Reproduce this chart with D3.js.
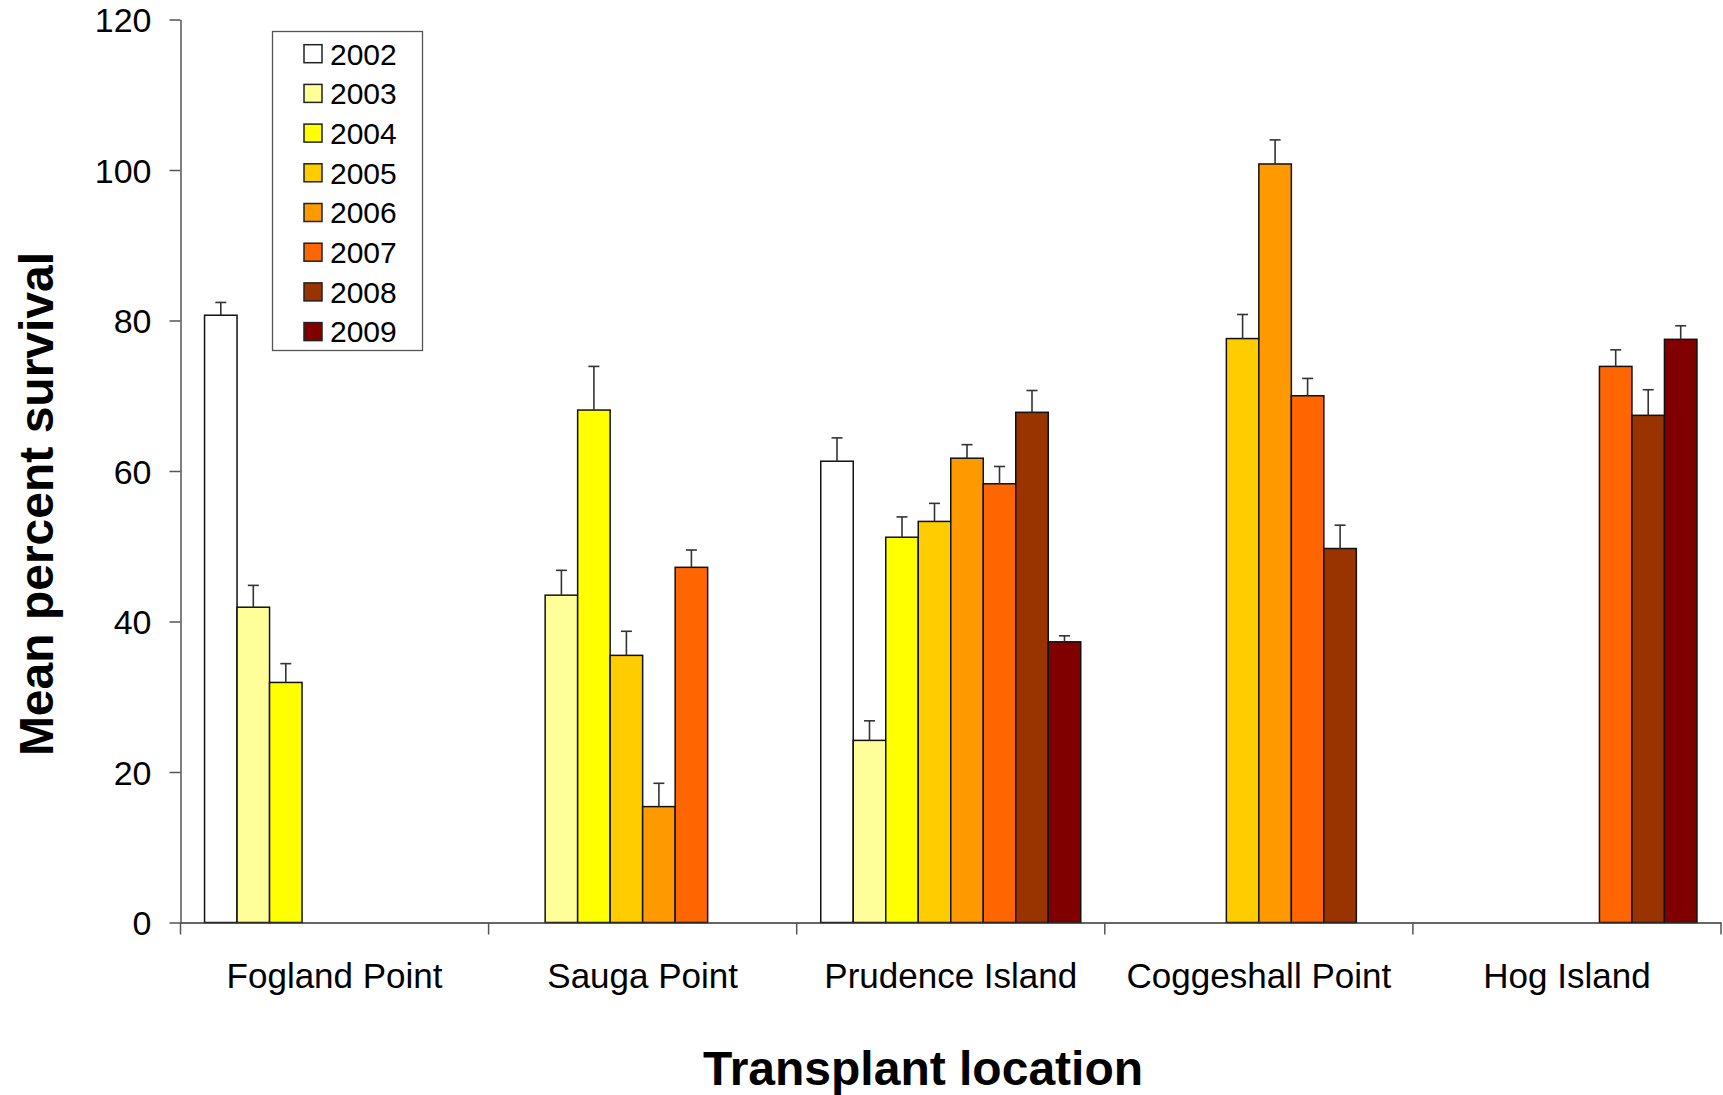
<!DOCTYPE html>
<html>
<head>
<meta charset="utf-8">
<script src="https://cdn.jsdelivr.net/npm/d3@7"></script>
<style>
  html, body { margin: 0; padding: 0; background: #fff; }
  svg { display: block; font-family: "Liberation Sans", Arial, sans-serif; }
</style>
</head>
<body>
<svg id="chart" width="1723" height="1095"></svg>
<script>
const categories = ["Fogland Point", "Sauga Point", "Prudence Island", "Coggeshall Point", "Hog Island"];
const years = ["2002", "2003", "2004", "2005", "2006", "2007", "2008", "2009"];
const colors = ["#FFFFFF", "#FFFF99", "#FFFF00", "#FFCC00", "#FF9900", "#FF6600", "#993300", "#800000"];
// mean percent survival, per year, per location (null = no data)
const v2002 = [80.7, null, 61.3, null, null];
const v2003 = [41.9, 43.5, 24.2, null, null];
const v2004 = [31.9, 68.1, 51.2, null, null];
const v2005 = [null, 35.5, 53.3, 77.6, null];
const v2006 = [null, 15.4, 61.7, 100.8, null];
const v2007 = [null, 47.2, 58.3, 70.0, 73.9];
const v2008 = [null, null, 67.8, 49.7, 67.4];
const v2009 = [null, null, 37.3, null, 77.5];
// upper error bar (standard error)
const e2002 = [1.7, null, 3.1, null, null];
const e2003 = [2.9, 3.3, 2.6, null, null];
const e2004 = [2.5, 5.8, 2.7, null, null];
const e2005 = [null, 3.2, 2.4, 3.2, null];
const e2006 = [null, 3.1, 1.8, 3.2, null];
const e2007 = [null, 2.3, 2.3, 2.3, 2.2];
const e2008 = [null, null, 2.9, 3.1, 3.4];
const e2009 = [null, null, 0.8, null, 1.8];
const yTicks = [0, 20, 40, 60, 80, 100, 120];

const values = [v2002, v2003, v2004, v2005, v2006, v2007, v2008, v2009];
const errors = [e2002, e2003, e2004, e2005, e2006, e2007, e2008, e2009];

const svg = d3.select("#chart");
const mLeft = 180.5, mRight = 1721, mTop = 19.5, mBottom = 922.5;

const x0 = d3.scaleBand().domain(categories).range([mLeft, mRight]).paddingInner(0).paddingOuter(0);
const x1 = d3.scaleBand().domain(years).range([0, x0.bandwidth()]).paddingInner(0).paddingOuter(0.74);
const y = d3.scaleLinear().domain([0, 120]).range([mBottom, mTop]);

const data = [];
years.forEach((yr, i) => {
  categories.forEach((c, j) => {
    if (values[i][j] != null) data.push({ year: yr, cat: c, v: values[i][j], e: errors[i][j], color: colors[i] });
  });
});

// bars
svg.append("g").selectAll("rect").data(data).join("rect")
  .attr("x", d => x0(d.cat) + x1(d.year))
  .attr("y", d => y(d.v))
  .attr("width", x1.bandwidth())
  .attr("height", d => y(0) - y(d.v))
  .attr("fill", d => d.color)
  .attr("stroke", "#111")
  .attr("stroke-width", 1.5);

// error bars
const eb = svg.append("g").attr("stroke", "#333").attr("stroke-width", 1.6);
data.forEach(d => {
  const cx = x0(d.cat) + x1(d.year) + x1.bandwidth() / 2;
  eb.append("line").attr("x1", cx).attr("x2", cx).attr("y1", y(d.v)).attr("y2", y(d.v + d.e));
  eb.append("line").attr("x1", cx - 5.5).attr("x2", cx + 5.5).attr("y1", y(d.v + d.e)).attr("y2", y(d.v + d.e));
});

// y axis
const yAxis = svg.append("g").attr("transform", `translate(${mLeft},0)`)
  .call(d3.axisLeft(y).tickValues(yTicks).tickSize(11).tickPadding(18).tickSizeOuter(0));
yAxis.select(".domain").attr("stroke", "#555").attr("stroke-width", 1.5);
yAxis.selectAll(".tick line").attr("stroke", "#555").attr("stroke-width", 1.5);
yAxis.selectAll(".tick text").attr("font-size", 34).attr("fill", "#000")
  .attr("font-family", "'Liberation Sans', Arial, sans-serif").attr("dy", "0.36em");

// x axis
const xAxis = svg.append("g").attr("transform", `translate(0,${mBottom})`)
  .call(d3.axisBottom(x0).tickSize(0).tickPadding(0).tickSizeOuter(0));
xAxis.select(".domain").attr("stroke", "#333").attr("stroke-width", 1.5);
xAxis.selectAll(".tick text").attr("font-size", 35).attr("fill", "#000")
  .attr("font-family", "'Liberation Sans', Arial, sans-serif").attr("y", 53).attr("dy", "0.36em");
// boundary ticks
const bounds = categories.map(c => x0(c)).concat([x0(categories[categories.length - 1]) + x0.bandwidth()]);
xAxis.append("g").selectAll("line").data(bounds).join("line")
  .attr("x1", d => d).attr("x2", d => d).attr("y1", 0).attr("y2", 12)
  .attr("stroke", "#555").attr("stroke-width", 1.5);

// axis titles
svg.append("text").attr("x", 923).attr("y", 1068).attr("text-anchor", "middle").attr("dy", "0.36em")
  .attr("font-size", 48).attr("font-weight", "bold").text("Transplant location");
svg.append("text").attr("transform", "translate(36,504) rotate(-90)").attr("text-anchor", "middle").attr("dy", "0.36em")
  .attr("font-size", 48).attr("font-weight", "bold").text("Mean percent survival");

// legend
const lg = svg.append("g");
lg.append("rect").attr("x", 272.5).attr("y", 31.5).attr("width", 150).attr("height", 319)
  .attr("fill", "#fff").attr("stroke", "#555").attr("stroke-width", 1.3);
const items = lg.selectAll("g.item").data(years).join("g").attr("class", "item")
  .attr("transform", (d, i) => `translate(0,${53.7 + i * 39.7})`);
items.append("rect").attr("x", 304).attr("y", -9).attr("width", 18).attr("height", 18)
  .attr("fill", (d, i) => colors[i]).attr("stroke", "#222").attr("stroke-width", 1.5);
items.append("text").attr("x", 330).attr("y", 0).attr("dy", "0.36em").attr("font-size", 30).text(d => d);
</script>
</body>
</html>
